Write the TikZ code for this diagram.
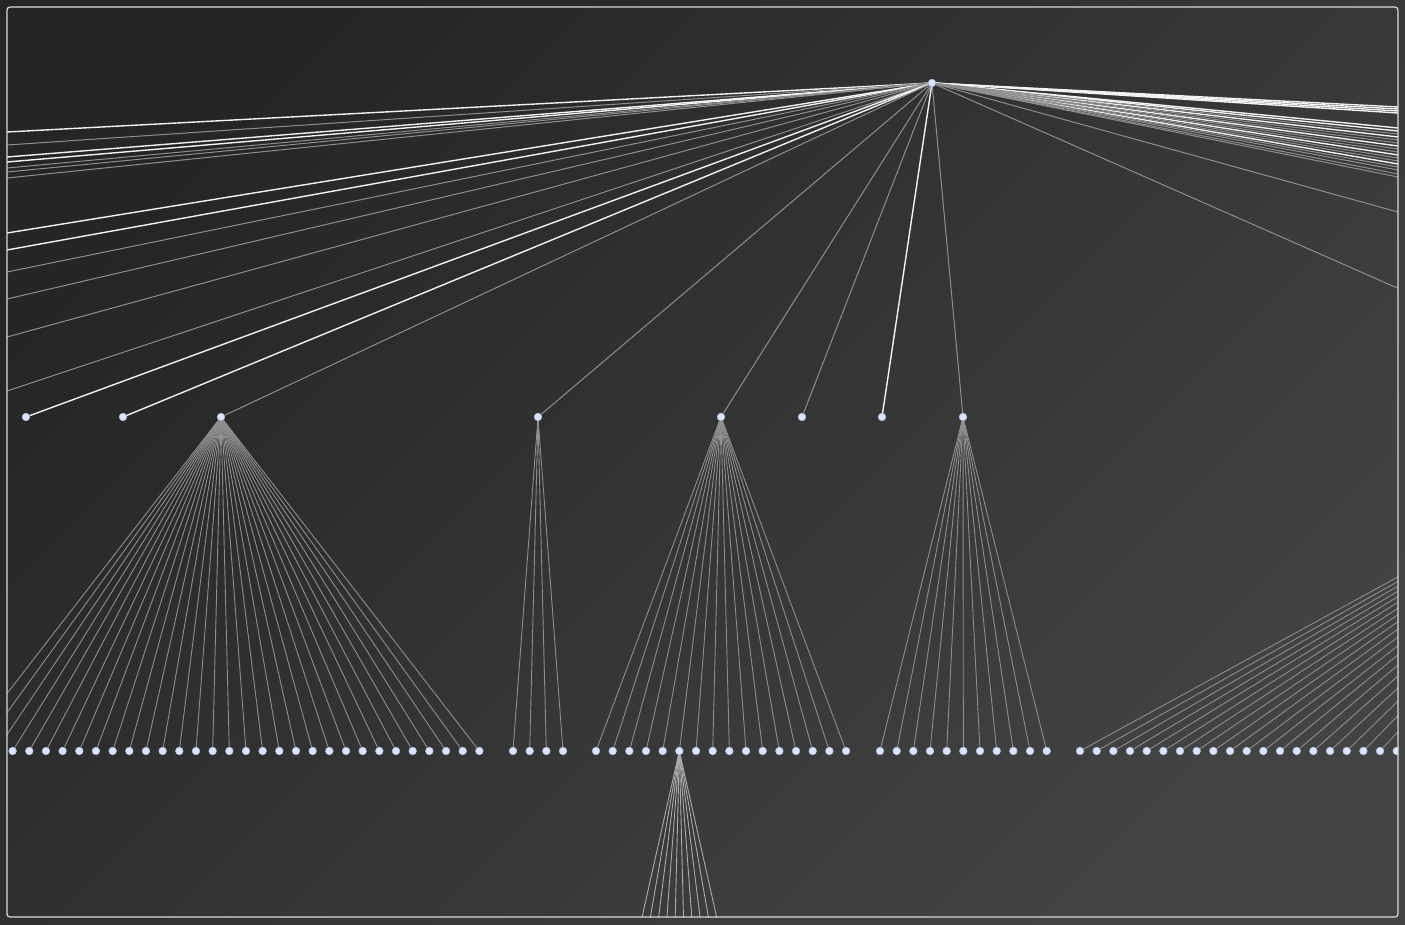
\documentclass[tikz,border=0pt]{standalone}
\definecolor{bgdark}{HTML}{252525}
\definecolor{bglight}{HTML}{434343}
\definecolor{nodefill}{HTML}{DCE4FF}
\definecolor{nodeedge}{HTML}{B4C3EC}
\definecolor{linkbright}{HTML}{F2F2F2}
\definecolor{linkdim}{HTML}{8E8E8E}
\definecolor{linksoft}{HTML}{ABABAB}
\definecolor{framegray}{HTML}{DADADA}
\tikzset{%
  dot/.style={circle,draw=nodeedge,line width=0.3pt,fill=nodefill,inner sep=0pt,minimum size=3.8pt},
  brightlink/.style={draw=linkbright,line width=0.7pt},
  dimlink/.style={draw=linkdim,line width=0.5pt},
  twig/.style={draw=linkdim,line width=0.45pt},
  softtwig/.style={draw=linksoft,line width=0.45pt},
  frame/.style={draw=framegray,line width=0.6pt,rounded corners=1.5pt}%
}
\begin{document}
\begin{tikzpicture}[x=0.5pt,y=-0.5pt]
\useasboundingbox (0,0) rectangle (1405,925);
\shade[left color=bgdark,right color=bglight,shading angle=45] (0,0) rectangle (1405,925);

\begin{scope}
\clip (7,7) rectangle (1398,917);

% Root and the first level that is in view
\node[dot] (root) at (932,83) {};
\node[dot] (lone1) at (26,417) {};
\node[dot] (lone2) at (123,417) {};
\node[dot] (grpA) at (221,417) {};
\node[dot] (grpB) at (538,417) {};
\node[dot] (grpC) at (721,417) {};
\node[dot] (leafD) at (802,417) {};
\node[dot] (leafE) at (882,417) {};
\node[dot] (grpF) at (963,417) {};
\node[dot] (grpG) at (1690,417) {};

% First level out of view, left and right
\foreach \ye [count=\k] in {132,157,162,233,250} {
  \coordinate (farLb\k) at ({932-925*(334/(\ye-83))},417);
  \draw[brightlink] (root) -- (farLb\k);
}
\foreach \ye [count=\k] in {145,168,172,178,272,299,337,391} {
  \coordinate (farLd\k) at ({932-925*(334/(\ye-83))},417);
  \draw[dimlink] (root) -- (farLd\k);
}
\foreach \ye [count=\k] in {107,109,111,113,128,131,137,146,155,164} {
  \coordinate (farRb\k) at ({932+466*(334/(\ye-83))},417);
  \draw[brightlink] (root) -- (farRb\k);
}
\foreach \ye [count=\k] in {134,140,143,149,152,158,161,167,170,174,177,212} {
  \coordinate (farRd\k) at ({932+466*(334/(\ye-83))},417);
  \draw[dimlink] (root) -- (farRd\k);
}

% Root links
\draw[brightlink] (root) -- (lone1);
\draw[brightlink] (root) -- (lone2);
\draw[dimlink] (root) -- (grpA);
\draw[dimlink] (root) -- (grpB);
\draw[dimlink] (root) -- (grpC);
\draw[dimlink] (root) -- (leafD);
\draw[brightlink] (root) -- (leafE);
\draw[dimlink] (root) -- (grpF);
\draw[dimlink] (root) -- (grpG);

% Second level
\foreach \i in {0,...,31} {
  \node[dot] (a\i) at ({-37.4+16.67*\i},751) {};
  \draw[twig] (grpA) -- (a\i);
}
\foreach \i in {0,...,3} {
  \node[dot] (b\i) at ({513+16.67*\i},751) {};
  \draw[twig] (grpB) -- (b\i);
}
\foreach \i in {0,...,15} {
  \node[dot] (c\i) at ({596+16.67*\i},751) {};
  \draw[twig] (grpC) -- (c\i);
}
\foreach \i in {0,...,10} {
  \node[dot] (f\i) at ({880+16.67*\i},751) {};
  \draw[twig] (grpF) -- (f\i);
}
\foreach \i in {0,...,20} {
  \node[dot] (g\i) at ({1080+16.67*\i},751) {};
  \draw[twig] (grpG) -- (g\i);
}

% Third level below c5
\foreach \i in {0,...,9} {
  \node[dot] (h\i) at ({679.35+16.67*(\i-4.5)},1085) {};
  \draw[softtwig] (c5) -- (h\i);
}
\end{scope}

\draw[frame] (7,7) rectangle (1398,917);
\end{tikzpicture}
\end{document}
